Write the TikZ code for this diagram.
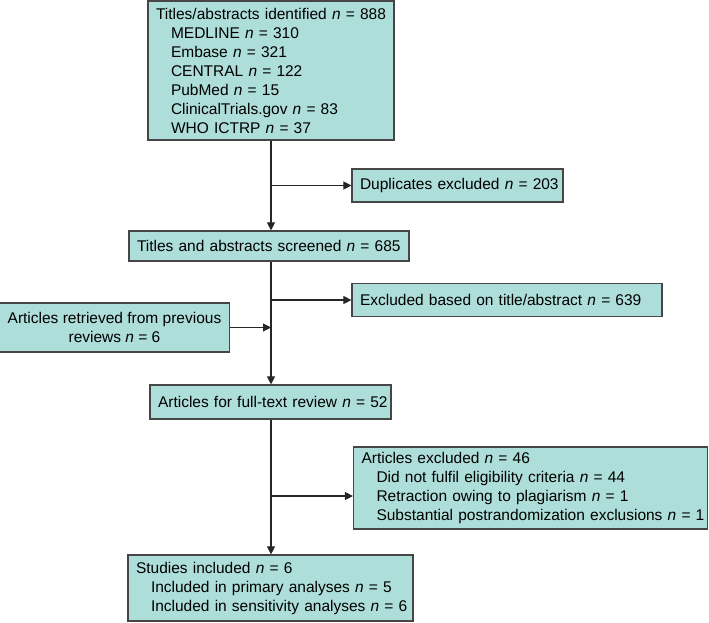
\documentclass[tikz,border=0pt]{standalone}
\usepackage{fontspec}
\setmainfont{Liberation Sans}
\usetikzlibrary{arrows.meta}
\definecolor{boxfill}{RGB}{174,222,218}
\definecolor{boxline}{RGB}{70,70,70}
\newcommand{\nn}{\textit{n}~=~}
\newcommand{\ind}{\hspace*{15pt}}
\newcommand{\bxline}[1]{\mbox{#1}}
\tikzset{
  flowbox/.style={draw=boxline, fill=boxfill, line width=1.2pt, inner xsep=8pt, inner ysep=0pt,
    font=\fontsize{15.5}{19}\selectfont, align=left},
  conn/.style={draw=black!85, line width=1.1pt},
  arr/.style={conn, -{Triangle[length=8pt,width=8pt]}}
}
\begin{document}
\begin{tikzpicture}[x=1pt,y=-1pt]
\useasboundingbox (0,0) rectangle (709,622);
\node[flowbox, minimum width=246pt, minimum height=139pt, text width=230pt] (top) at (271,70.5)
  {\bxline{Titles/abstracts identified \nn 888}\\
   \bxline{\ind MEDLINE \nn 310}\\
   \bxline{\ind Embase \nn 321}\\
   \bxline{\ind CENTRAL \nn 122}\\
   \bxline{\ind PubMed \nn 15}\\
   \bxline{\ind ClinicalTrials.gov \nn 83}\\
   \bxline{\ind WHO ICTRP \nn 37}};
\node[flowbox, minimum width=211pt, minimum height=33pt, text width=195pt] (dup) at (457.5,185.5)
  {\bxline{Duplicates excluded \nn 203}};
\node[flowbox, minimum width=280pt, minimum height=30pt, text width=264pt] (scr) at (269,246)
  {\bxline{Titles and abstracts screened \nn 685}};
\node[flowbox, minimum width=310pt, minimum height=33pt, text width=294pt] (exc) at (507,300)
  {\bxline{Excluded based on title/abstract \nn 639}};
\node[flowbox, minimum width=227pt, minimum height=49pt, align=center] (prev) at (114.5,327.5)
  {Articles retrieved from previous\\ reviews \nn 6};
\node[flowbox, minimum width=241pt, minimum height=34pt, text width=225pt] (full) at (270.5,402)
  {\bxline{Articles for full-text review \nn 52}};
\node[flowbox, minimum width=354pt, minimum height=82pt, text width=338pt] (axc) at (530.5,488)
  {\bxline{Articles excluded \nn 46}\\
   \bxline{\ind Did not fulfil eligibility criteria \nn 44}\\
   \bxline{\ind Retraction owing to plagiarism \nn 1}\\
   \bxline{\ind Substantial postrandomization exclusions \nn 1}};
\node[flowbox, minimum width=285pt, minimum height=66pt, text width=269pt] (inc) at (270.5,588)
  {\bxline{Studies included \nn 6}\\
   \bxline{\ind Included in primary analyses \nn 5}\\
   \bxline{\ind Included in sensitivity analyses \nn 6}};
% connectors
\draw[arr] (top.south) -- (top.south |- scr.north);
\draw[arr] (top.south |- dup.west) -- (dup.west);
\draw[arr] (top.south |- scr.south) -- (top.south |- full.north);
\draw[arr] (top.south |- exc.west) -- (exc.west);
\draw[arr] (prev.east) -- (top.south |- prev.east);
\coordinate (b3) at (271,496);
\draw[arr] (top.south |- full.south) -- (top.south |- inc.north);
\draw[arr] (b3) -- (axc.west |- b3);
\end{tikzpicture}
\end{document}
